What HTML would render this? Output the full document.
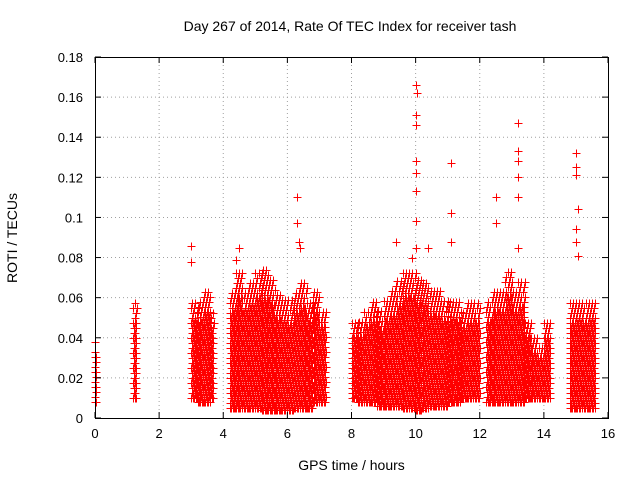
<!DOCTYPE html>
<html><head><meta charset="utf-8"><style>
body{margin:0;background:#fff}
svg{font-family:"Liberation Sans",sans-serif}
</style></head><body>
<svg id="c" width="640" height="480"></svg>
<script>
// segments: start hour, width hour, low ROTI, high ROTI
const segStart=[0,1.2,3.0,3.2,3.4,3.6,4.2,4.4,4.6,4.8,5.0,5.2,5.4,5.6,5.8,6.0,6.2,6.4,6.6,6.8,7.0,8.0,8.2,8.4,8.6,8.8,9.0,9.2,9.4,9.6,9.8,10.0,10.2,10.4,10.6,10.8,11.0,11.2,11.4,11.6,11.8,12.2,12.4,12.6,12.8,13.0,13.2,13.4,13.6,13.8,14.0,14.8,15.0,15.2,15.4];
const segWidth=[0.05,0.1,0.2,0.2,0.2,0.1,0.2,0.2,0.2,0.2,0.2,0.2,0.2,0.2,0.2,0.2,0.2,0.2,0.2,0.2,0.2,0.2,0.2,0.2,0.2,0.2,0.2,0.2,0.2,0.2,0.2,0.2,0.2,0.2,0.2,0.2,0.2,0.2,0.2,0.2,0.2,0.2,0.2,0.2,0.2,0.2,0.2,0.2,0.2,0.2,0.2,0.2,0.2,0.2,0.2];
const segLow=[.008,.01,.01,.008,.008,.01,.005,.005,.005,.005,.005,.004,.004,.004,.004,.004,.005,.005,.005,.008,.008,.01,.008,.008,.008,.006,.006,.006,.006,.005,.005,.004,.005,.006,.006,.006,.008,.008,.01,.01,.01,.008,.008,.008,.008,.008,.008,.01,.01,.01,.01,.005,.005,.005,.005];
const segHigh=[.04,.06,.058,.06,.065,.055,.065,.075,.065,.07,.075,.075,.07,.062,.06,.06,.065,.07,.06,.065,.055,.05,.05,.055,.06,.055,.06,.065,.07,.075,.075,.07,.07,.065,.065,.06,.06,.06,.055,.06,.06,.06,.065,.065,.075,.065,.07,.05,.04,.035,.05,.06,.06,.06,.06];
const outT=[6.3,6.3,6.35,6.4,3.0,3.0,10.0,10.05,10.0,10.0,10.0,10.0,10.0,10.0,10.0,11.1,11.1,11.1,12.5,12.5,13.2,13.2,13.2,13.2,13.2,13.2,15.0,15.0,15.0,15.05,15.0,15.0,15.05,9.4,9.9,10.4,4.5,0,4.4];
const outV=[.110,.097,.088,.085,.086,.078,.166,.162,.151,.146,.128,.122,.113,.098,.085,.127,.102,.088,.110,.097,.147,.133,.128,.12,.11,.085,.132,.125,.121,.104,.094,.088,.081,.088,.08,.085,.085,.008,.079];
const xTicks=[0,2,4,6,8,10,12,14,16];
const yTicks=[0,0.02,0.04,0.06,0.08,0.1,0.12,0.14,0.16,0.18];
const yTickLabels=["0","0.02","0.04","0.06","0.08","0.1","0.12","0.14","0.16","0.18"];

const L=95,R=608,T=57,B=418;
const X=t=>L+(t/16)*(R-L);
const Y=v=>B-(v/0.18)*(B-T);
const svg=document.getElementById('c');
const NS='http://www.w3.org/2000/svg';
function el(tag,attrs,parent){const e=document.createElementNS(NS,tag);for(const k in attrs)e.setAttribute(k,attrs[k]);(parent||svg).appendChild(e);return e;}

const grid=el('g',{});


xTicks.forEach(t=>{if(t>0&&t<16){el('line',{x1:X(t),x2:X(t),y1:T,y2:B,stroke:'#a0a0a0','stroke-dasharray':'1,3'},grid);}});
yTicks.forEach(v=>{if(v>0&&v<0.18){el('line',{x1:L,x2:R,y1:Y(v),y2:Y(v),stroke:'#a0a0a0','stroke-dasharray':'1,3'},grid);}});

const pts=el('g',{});


let d='';
function cross(x,y){x=Math.round(x)+0.5;y=Math.round(y)+0.5;d+=`M${x-4} ${y}h8M${x} ${y-4}v8`;}
segStart.forEach((s,i)=>{
  const w=segWidth[i],lo=segLow[i],hi=segHigh[i];
  let row=0;
  for(let v=lo;v<=hi;v+=0.0025,row++){
    const frac=(v-lo)/(hi-lo);
    const step=frac>0.8?0.1:0.045;
    const off=(row%3)*step/3;
    for(let t=s+off;t<=s+w;t+=step){cross(X(t),Y(v));}
  }
});
outT.forEach((t,i)=>cross(X(t),Y(outV[i])));
el('path',{d:d,fill:'none',stroke:'#ff0000','stroke-width':1},pts);

const border=el('rect',{x:L+0.5,y:T+0.5,width:R-L,height:B-T,fill:'none',stroke:'#000'});



const xa=el('g',{'font-size':13,'text-anchor':'middle'});


xTicks.forEach(t=>{
  el('line',{x1:X(t),x2:X(t),y1:B,y2:B-6,stroke:'#000'},xa);
  el('line',{x1:X(t),x2:X(t),y1:T,y2:T+6,stroke:'#000'},xa);
  const tx=el('text',{x:X(t),y:B+20},xa);tx.textContent=t;
});
const ya=el('g',{'font-size':13,'text-anchor':'end'});


yTicks.forEach((v,i)=>{
  el('line',{x1:L,x2:L+6,y1:Y(v),y2:Y(v),stroke:'#000'},ya);
  el('line',{x1:R,x2:R-6,y1:Y(v),y2:Y(v),stroke:'#000'},ya);
  const tx=el('text',{x:L-12,y:Y(v)+5},ya);tx.textContent=yTickLabels[i];
});
</script>
<div style="position:absolute;left:0;top:0;width:640px;height:480px;font-family:'Liberation Sans',sans-serif;font-size:14px;pointer-events:none">
<div style="position:absolute;top:18px;left:0;width:700px;text-align:center">Day 267 of 2014, Rate Of TEC Index for receiver tash</div>
<div style="position:absolute;top:457px;left:0;width:703px;text-align:center">GPS time / hours</div>
<div style="position:absolute;left:-38px;top:230px;width:100px;text-align:center;transform:rotate(-90deg)">ROTI / TECUs</div>
</div>
</body></html>
